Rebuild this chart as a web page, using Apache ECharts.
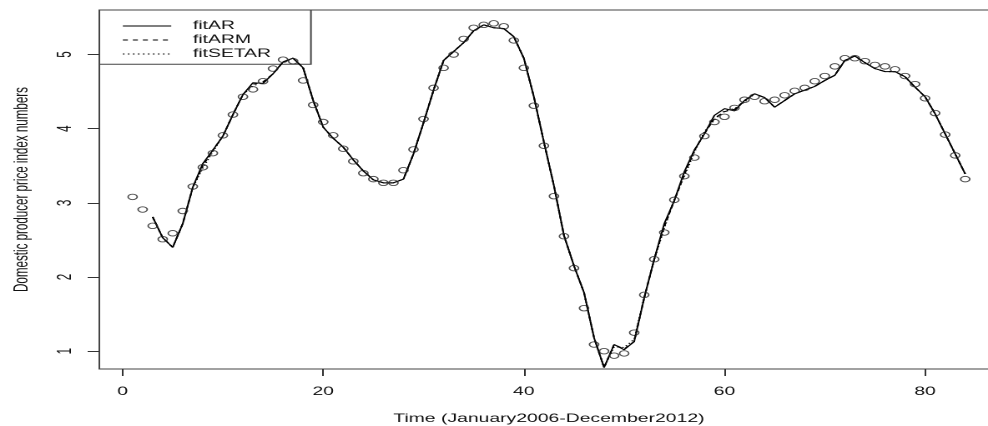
<!DOCTYPE html>
<html>
<head>
<meta charset="utf-8">
<script src="https://cdn.jsdelivr.net/npm/echarts@6/dist/echarts.min.js"></script>
<style>
  html, body { margin: 0; padding: 0; background: #fff; overflow: hidden; }
  /* the original plot is stretched sideways, so draw narrow and scale */
  #chart { width: 592px; height: 426px; transform: scaleX(1.66892); transform-origin: 0 0; }
</style>
</head>
<body>
<div id="chart"></div>
<script>
// observed series, t = 1..84
const observed = [
  3.08, 2.91, 2.69, 2.51, 2.59, 2.89, 3.22, 3.48, 3.67, 3.91,
  4.19, 4.43, 4.53, 4.64, 4.81, 4.93, 4.91, 4.65, 4.32, 4.09,
  3.91, 3.73, 3.56, 3.40, 3.32, 3.27, 3.27, 3.44, 3.72, 4.13,
  4.55, 4.82, 5.00, 5.21, 5.36, 5.40, 5.42, 5.38, 5.19, 4.82,
  4.31, 3.77, 3.09, 2.55, 2.12, 1.58, 1.09, 1.00, 0.94, 0.97,
  1.25, 1.76, 2.24, 2.60, 3.04, 3.36, 3.61, 3.90, 4.09, 4.16,
  4.28, 4.39, 4.43, 4.37, 4.39, 4.45, 4.51, 4.55, 4.64, 4.71,
  4.84, 4.95, 4.95, 4.91, 4.86, 4.84, 4.80, 4.71, 4.60, 4.41,
  4.21, 3.92, 3.64, 3.32
];
const fitStart = 3; // fitted values begin at t = 3
const fitAR = [
  2.81, 2.53, 2.40, 2.72, 3.21, 3.53, 3.71, 3.90, 4.19, 4.46,
  4.62, 4.61, 4.74, 4.90, 4.95, 4.82, 4.38, 4.02, 3.87, 3.75,
  3.58, 3.43, 3.31, 3.27, 3.27, 3.32, 3.66, 4.08, 4.52, 4.92,
  5.04, 5.16, 5.32, 5.40, 5.36, 5.35, 5.24, 4.95, 4.43, 3.82,
  3.23, 2.56, 2.15, 1.79, 1.18, 0.78, 1.09, 1.02, 1.13, 1.72,
  2.24, 2.72, 3.03, 3.42, 3.71, 3.93, 4.18, 4.27, 4.24, 4.38,
  4.47, 4.42, 4.29, 4.38, 4.47, 4.52, 4.57, 4.65, 4.72, 4.92,
  4.98, 4.89, 4.81, 4.77, 4.77, 4.70, 4.56, 4.43, 4.20, 3.93,
  3.66, 3.39
];
const fitARM = [
  2.81, 2.53, 2.40, 2.72, 3.21, 3.50, 3.71, 3.90, 4.19, 4.46,
  4.60, 4.63, 4.74, 4.90, 4.95, 4.82, 4.38, 4.02, 3.87, 3.75,
  3.58, 3.43, 3.31, 3.27, 3.27, 3.32, 3.66, 4.08, 4.52, 4.92,
  5.04, 5.16, 5.32, 5.40, 5.36, 5.35, 5.24, 4.95, 4.43, 3.82,
  3.23, 2.56, 2.15, 1.79, 1.18, 0.78, 1.09, 1.03, 1.13, 1.72,
  2.24, 2.68, 3.03, 3.38, 3.71, 3.93, 4.14, 4.23, 4.26, 4.38,
  4.47, 4.42, 4.29, 4.38, 4.47, 4.52, 4.57, 4.65, 4.72, 4.92,
  4.98, 4.89, 4.81, 4.77, 4.77, 4.70, 4.56, 4.43, 4.20, 3.93,
  3.66, 3.39
];
const fitSETAR = [
  2.81, 2.53, 2.40, 2.72, 3.21, 3.47, 3.69, 3.90, 4.19, 4.46,
  4.58, 4.62, 4.74, 4.90, 4.95, 4.82, 4.38, 4.02, 3.87, 3.75,
  3.58, 3.43, 3.31, 3.27, 3.27, 3.32, 3.66, 4.08, 4.52, 4.92,
  5.04, 5.16, 5.32, 5.40, 5.36, 5.35, 5.24, 4.95, 4.43, 3.82,
  3.23, 2.56, 2.15, 1.79, 1.18, 0.78, 1.06, 1.05, 1.16, 1.72,
  2.24, 2.66, 3.05, 3.36, 3.68, 3.96, 4.12, 4.24, 4.27, 4.36,
  4.47, 4.42, 4.29, 4.38, 4.47, 4.52, 4.57, 4.65, 4.72, 4.92,
  4.98, 4.89, 4.81, 4.77, 4.77, 4.70, 4.56, 4.43, 4.20, 3.93,
  3.66, 3.39
];
const xTicks = [0, 20, 40, 60, 80];
const yTicks = [1, 2, 3, 4, 5];
const xTitle = 'Time (January2006-December2012)';
const yTitle = 'Domestic producer price index numbers';

const font = 'Liberation Sans, Arial, sans-serif';
const ink = '#111';

const toPairs = (arr, start) => arr.map((v, i) => [i + start, v]);

const chart = echarts.init(document.getElementById('chart'), null, { devicePixelRatio: 2 });

const option = {
  animation: false,
  backgroundColor: '#fff',
  grid: {
    left: 59.5, top: 10, right: -6.3, bottom: 57,
    outerBoundsMode: 'none',
    show: true, borderColor: '#444', borderWidth: 1
  },
  xAxis: {
    type: 'value', min: -2.32, max: 87.32,
    axisLine: { show: false, onZero: false },
    splitLine: { show: false },
    axisTick: { show: true, length: 7, customValues: xTicks, lineStyle: { color: '#333' } },
    axisLabel: { customValues: xTicks, margin: 17, fontSize: 11.6, color: ink, fontFamily: font },
    name: xTitle, nameLocation: 'middle', nameGap: 44,
    nameTextStyle: { fontSize: 11.6, color: ink, fontFamily: font }
  },
  yAxis: {
    type: 'value', min: 0.76, max: 5.6,
    axisLine: { show: false, onZero: false },
    splitLine: { show: false },
    axisTick: { show: true, length: 7, customValues: yTicks, lineStyle: { color: '#333' } },
    axisLabel: { customValues: yTicks, rotate: 90, margin: 14, fontSize: 11.6, color: ink, fontFamily: font },
    name: yTitle, nameLocation: 'middle', nameGap: 40,
    nameTextStyle: { fontSize: 11.6, color: ink, fontFamily: font }
  },
  legend: {
    data: ['fitAR', 'fitARM', 'fitSETAR'],
    orient: 'vertical', left: 73.1, top: 20, padding: 0,
    itemWidth: 29, itemHeight: 12, itemGap: 2,
    itemStyle: { color: 'rgba(0,0,0,0)', borderColor: 'rgba(0,0,0,0)', borderWidth: 0 },
    lineStyle: { width: 1 },
    textStyle: { fontSize: 11.6, color: ink, fontFamily: font, padding: [0, 0, 0, 8] }
  },
  graphic: [{
    type: 'rect', z: 0, silent: true,
    shape: { x: 59.5, y: 10, width: 126.8, height: 54.3 },
    style: { fill: 'transparent', stroke: '#444', lineWidth: 1 }
  }],
  series: [
    {
      name: 'observed', type: 'scatter', data: toPairs(observed, 1),
      symbol: 'circle', symbolSize: 5.5,
      itemStyle: { color: 'rgba(0,0,0,0)', borderColor: '#222', borderWidth: 0.9 },
      z: 3
    },
    {
      name: 'fitAR', type: 'line', data: toPairs(fitAR, fitStart),
      symbol: 'none', lineStyle: { color: '#000', width: 1, type: 'solid' }
    },
    {
      name: 'fitARM', type: 'line', data: toPairs(fitARM, fitStart),
      symbol: 'none', lineStyle: { color: '#000', width: 1, type: [3, 3] }
    },
    {
      name: 'fitSETAR', type: 'line', data: toPairs(fitSETAR, fitStart),
      symbol: 'none', lineStyle: { color: '#000', width: 1, type: [1, 2] }
    }
  ]
};

chart.setOption(option);
</script>
</body>
</html>
